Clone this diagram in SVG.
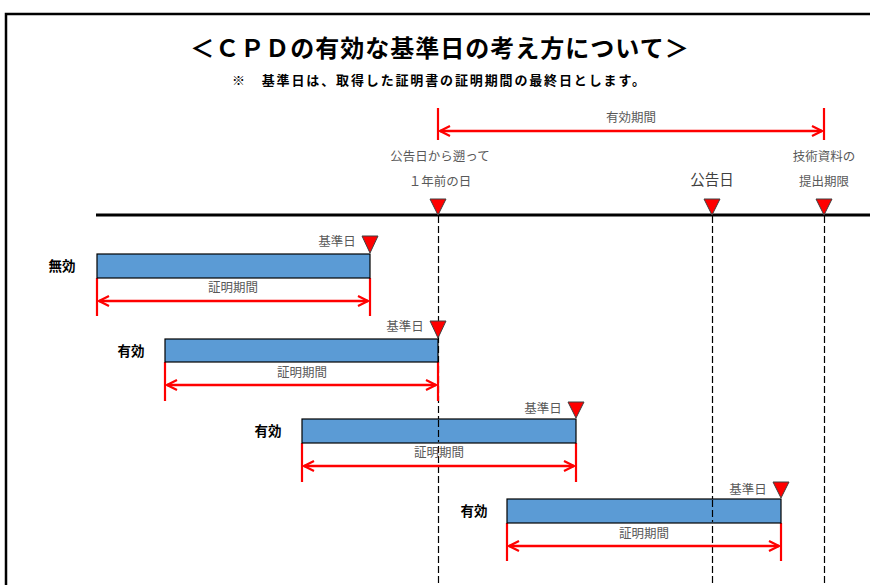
<svg xmlns="http://www.w3.org/2000/svg" width="870" height="585" viewBox="0 0 870 585">
<defs>
<style>
.t{font-family:"Noto Sans CJK JP","Liberation Sans",sans-serif}
.title{font-size:24px;font-weight:bold;fill:#000}
.sub{font-size:13px;font-weight:bold;fill:#000}
.g{font-size:12.5px;fill:#595959}
.gl{font-size:14.5px;fill:#404040}
.lab{font-size:13.5px;font-weight:bold;fill:#000}
.bar{fill:#5B9BD5;stroke:#000;stroke-width:1.2}
.red{stroke:#FF0000;stroke-width:2.2;fill:none}
.arr{stroke:#FF0000;stroke-width:2.5;fill:none}
.dash{stroke:#000;stroke-width:1.2;stroke-dasharray:7,3;fill:none}
.tri{fill:#FF0000;stroke:#404040;stroke-width:1}
</style>
<marker id="ah" viewBox="0 0 12 12" refX="11" refY="6" markerWidth="12" markerHeight="12" markerUnits="userSpaceOnUse" orient="auto-start-reverse">
<path d="M1,1 L11,6 L1,11" fill="none" stroke="#FF0000" stroke-width="2.2"/>
</marker>
</defs>
<rect width="870" height="585" fill="#fff"/>
<g id="frame">
<path d="M6,585 V14 H870" fill="none" stroke="#000" stroke-width="2.5"/>
</g>
<g id="title">
<text class="t title" x="440" y="57" text-anchor="middle" letter-spacing="1">＜ＣＰＤの有効な基準日の考え方について＞</text>
<text class="t sub" x="232" y="85" textLength="413" lengthAdjust="spacing">※　基準日は、取得した証明書の証明期間の最終日とします。</text>
</g>
<g id="connectors">
<line x1="96" y1="215" x2="870" y2="215" stroke="#000" stroke-width="3"/>
<line class="dash" x1="438.5" y1="216" x2="438.5" y2="585"/>
<line class="dash" x1="712.5" y1="216" x2="712.5" y2="585"/>
<line class="dash" x1="824.5" y1="216" x2="824.5" y2="585"/>
<line class="red" x1="438" y1="108" x2="438" y2="140"/>
<line class="red" x1="824" y1="108" x2="824" y2="140"/>
<line class="arr" x1="440" y1="131" x2="822" y2="131" marker-start="url(#ah)" marker-end="url(#ah)"/>
<line class="red" x1="97" y1="278" x2="97" y2="316"/>
<line class="red" x1="370" y1="278" x2="370" y2="316"/>
<line class="arr" x1="99" y1="301" x2="368" y2="301" marker-start="url(#ah)" marker-end="url(#ah)"/>
<line class="red" x1="165" y1="362" x2="165" y2="401"/>
<line class="red" x1="438" y1="362" x2="438" y2="401"/>
<line class="arr" x1="167" y1="385" x2="436" y2="385" marker-start="url(#ah)" marker-end="url(#ah)"/>
<line class="red" x1="302" y1="443" x2="302" y2="482"/>
<line class="red" x1="576" y1="443" x2="576" y2="482"/>
<line class="arr" x1="304" y1="466" x2="574" y2="466" marker-start="url(#ah)" marker-end="url(#ah)"/>
<line class="red" x1="507" y1="523" x2="507" y2="561"/>
<line class="red" x1="781" y1="523" x2="781" y2="561"/>
<line class="arr" x1="509" y1="546" x2="779" y2="546" marker-start="url(#ah)" marker-end="url(#ah)"/>
</g>
<g id="period-label">
<text class="t g" x="631" y="122" text-anchor="middle" font-size="13">有効期間</text>
</g>
<g id="m-start">
<text class="t g" x="440" y="161" text-anchor="middle">公告日から遡って</text>
<text class="t g" x="440" y="186" text-anchor="middle">１年前の日</text>
<path class="tri" d="M430,199 H446 L438,215 Z"/>
</g>
<g id="m-koukoku">
<text class="t gl" x="712" y="185" text-anchor="middle">公告日</text>
<path class="tri" d="M704,199 H720 L712,215 Z"/>
</g>
<g id="m-deadline">
<text class="t g" x="824" y="161" text-anchor="middle">技術資料の</text>
<text class="t g" x="824" y="186" text-anchor="middle">提出期限</text>
<path class="tri" d="M816,199 H832 L824,215 Z"/>
</g>
<g id="row1">
<text class="t lab" x="62" y="271" text-anchor="middle">無効</text>
<rect class="bar" x="97" y="254" width="273" height="24"/>
<text class="t g" x="337" y="246" text-anchor="middle" font-size="13">基準日</text>
<path class="tri" d="M362,236 H378 L370,253 Z"/>
<text class="t g" x="233" y="292" text-anchor="middle" font-size="13">証明期間</text>
</g>
<g id="row2">
<text class="t lab" x="131" y="356" text-anchor="middle">有効</text>
<rect class="bar" x="165" y="339" width="273" height="23"/>
<text class="t g" x="405" y="331" text-anchor="middle" font-size="13">基準日</text>
<path class="tri" d="M430,321 H446 L438,338 Z"/>
<text class="t g" x="302" y="377" text-anchor="middle" font-size="13">証明期間</text>
</g>
<g id="row3">
<text class="t lab" x="268" y="436" text-anchor="middle">有効</text>
<rect class="bar" x="302" y="419" width="274" height="24"/>
<text class="t g" x="543" y="413" text-anchor="middle" font-size="13">基準日</text>
<path class="tri" d="M568,402 H584 L576,418 Z"/>
<text class="t g" x="439" y="457" text-anchor="middle" font-size="13">証明期間</text>
</g>
<g id="row4">
<text class="t lab" x="474" y="516" text-anchor="middle">有効</text>
<rect class="bar" x="507" y="499" width="274" height="24"/>
<text class="t g" x="748" y="494" text-anchor="middle" font-size="13">基準日</text>
<path class="tri" d="M773,482 H789 L781,498 Z"/>
<text class="t g" x="644" y="538" text-anchor="middle" font-size="13">証明期間</text>
</g>
<g id="overlay">
<line class="dash" x1="438.5" y1="420" x2="438.5" y2="442"/>
<line class="dash" x1="712.5" y1="500" x2="712.5" y2="522"/>
</g>
</svg>
